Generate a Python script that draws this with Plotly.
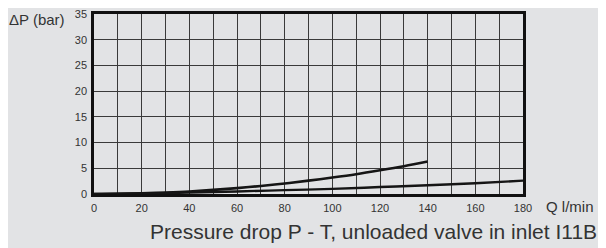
import plotly.graph_objects as go

q_upper = [0, 10, 20, 30, 40, 50, 60, 70, 80, 90, 100, 110, 120, 130, 140]
dp_upper = [0, 0.03, 0.13, 0.29, 0.5, 0.8, 1.15, 1.57, 2.05, 2.6, 3.2, 3.85, 4.6, 5.4, 6.3]

q_lower = [0, 20, 40, 60, 80, 100, 120, 140, 160, 180]
dp_lower = [0, 0.1, 0.28, 0.5, 0.75, 1.0, 1.35, 1.7, 2.1, 2.6]

x_ticks = list(range(0, 181, 10))
x_labels = [str(v) if v % 20 == 0 else "" for v in x_ticks]
y_ticks = list(range(0, 36, 5))
y_labels = [str(v) for v in y_ticks]

bg = "#e2e3e5"
OFF = 8  # default page body margin
W, H = 606, 248
# target plot area in page pixels: left 94, right 523, top 14, bottom 194
ML = 94 - OFF
MT = 14 - OFF
MR = (W + OFF) - 523
MB = (H + OFF) - 194

fig = go.Figure()
fig.add_trace(go.Scatter(x=q_upper, y=dp_upper, mode="lines",
                         line=dict(color="#151515", width=2.6, shape="spline"),
                         showlegend=False, hoverinfo="skip"))
fig.add_trace(go.Scatter(x=q_lower, y=dp_lower, mode="lines",
                         line=dict(color="#151515", width=2.4, shape="spline"),
                         showlegend=False, hoverinfo="skip"))

pw = W - ML - MR
ph = H - MT - MB

def to_paper(px, py):
    fx = px - OFF
    fy = py - OFF
    return (fx - ML) / pw, (H - MB - fy) / ph

annots = []
for text, px, py, anchor, size in [
    ("ΔP (bar)", 7, 19, "left", 15),
    ("Q l/min", 544, 206, "left", 15),
    ("Pressure drop P - T, unloaded valve in inlet I11B", 148, 231, "left", 21),
]:
    ax, ay = to_paper(px, py)
    annots.append(dict(text=text, x=ax, y=ay, xref="paper", yref="paper", showarrow=False,
                       xanchor=anchor, yanchor="middle", font=dict(size=size, color="#333")))

fig.update_layout(
    width=W, height=H,
    margin=dict(l=ML, r=MR, t=MT, b=MB, autoexpand=False),
    paper_bgcolor=bg, plot_bgcolor=bg,
    font=dict(family="Liberation Sans, Arial, sans-serif", color="#333"),
    xaxis=dict(range=[0, 180], tickvals=x_ticks, ticktext=x_labels,
               showgrid=True, gridcolor="#3a3a3a", gridwidth=1.3,
               showline=True, linecolor="#111", linewidth=2.5, mirror=True,
               ticks="outside", ticklen=2, tickcolor="rgba(0,0,0,0)",
               ticklabeloverflow="allow",
               tickfont=dict(size=11, color="#333"), zeroline=False),
    yaxis=dict(range=[0, 35], tickvals=y_ticks, ticktext=y_labels,
               showgrid=True, gridcolor="#3a3a3a", gridwidth=1.3,
               showline=True, linecolor="#111", linewidth=2.5, mirror=True,
               ticks="outside", ticklen=2, tickcolor="rgba(0,0,0,0)",
               ticklabeloverflow="allow",
               tickfont=dict(size=11, color="#333"), zeroline=False),
    annotations=annots,
)
fig.write_html("out.html")
